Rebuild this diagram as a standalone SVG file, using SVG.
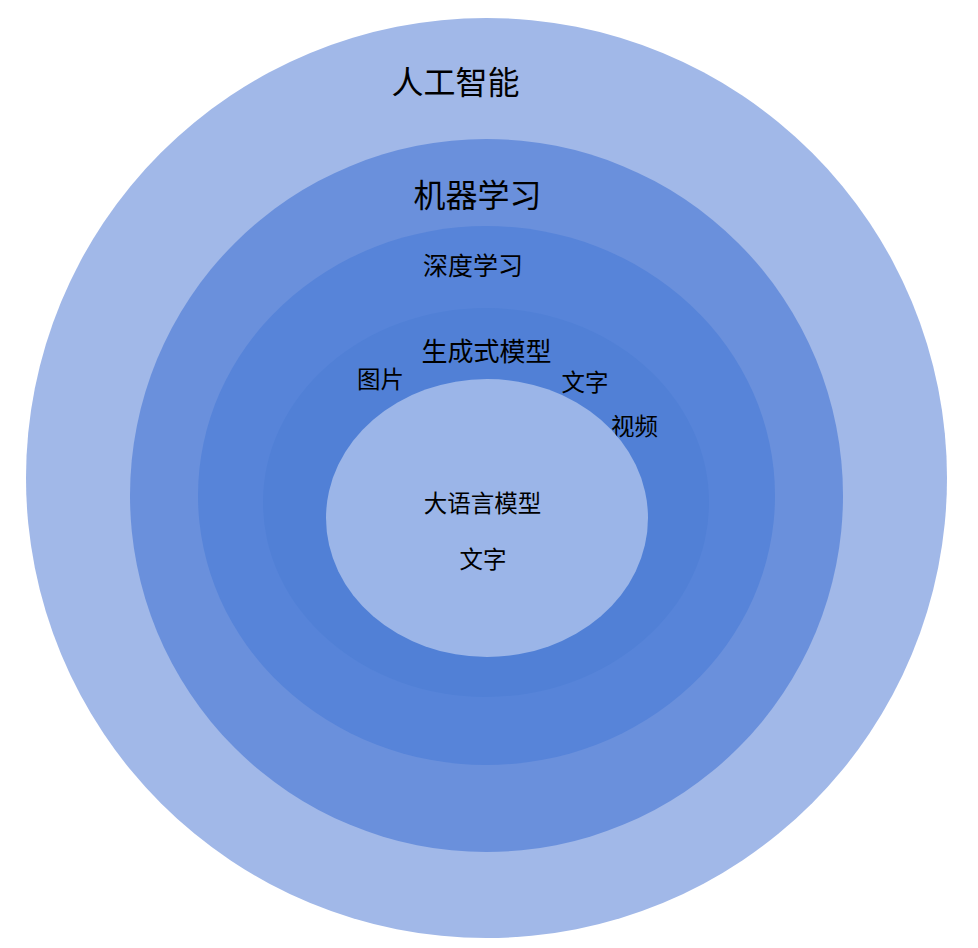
<svg xmlns="http://www.w3.org/2000/svg" width="978" height="948" viewBox="0 0 978 948">
<style>
text{font-family:"Noto Sans CJK SC","Noto Sans",sans-serif;fill:#000;text-anchor:middle;dominant-baseline:central}
.l{font-size:32px}
.m{font-size:25px}
.g{font-size:26px}
.s{font-size:23.5px}
</style>
<rect width="978" height="948" fill="#fff"/>
<g id="ai"><ellipse cx="486.5" cy="478" rx="460.5" ry="460" fill="#A1B8E8"/><text class="l" x="455.5" y="80">人工智能</text></g>
<g id="ml"><ellipse cx="486.5" cy="495.5" rx="356.5" ry="356.5" fill="#6A90DC"/><text class="l" x="477.5" y="193">机器学习</text></g>
<g id="dl"><ellipse cx="486.5" cy="495.5" rx="288.5" ry="269.5" fill="#5784D9"/><text class="m" x="473" y="264">深度学习</text></g>
<g id="gen"><ellipse cx="486" cy="502.5" rx="223" ry="194.5" fill="#5180D6"/><text class="g" x="486.5" y="349.5">生成式模型</text>
<text class="s" x="380.5" y="378">图片</text><text class="s" x="585" y="381">文字</text><text class="s" x="634.5" y="425">视频</text></g>
<g id="llm"><ellipse cx="487" cy="518" rx="161" ry="139" fill="#9BB5E8"/><text class="s" x="482.5" y="502">大语言模型</text><text class="s" x="483" y="558">文字</text></g>
<g id="connectors"/>
</svg>
